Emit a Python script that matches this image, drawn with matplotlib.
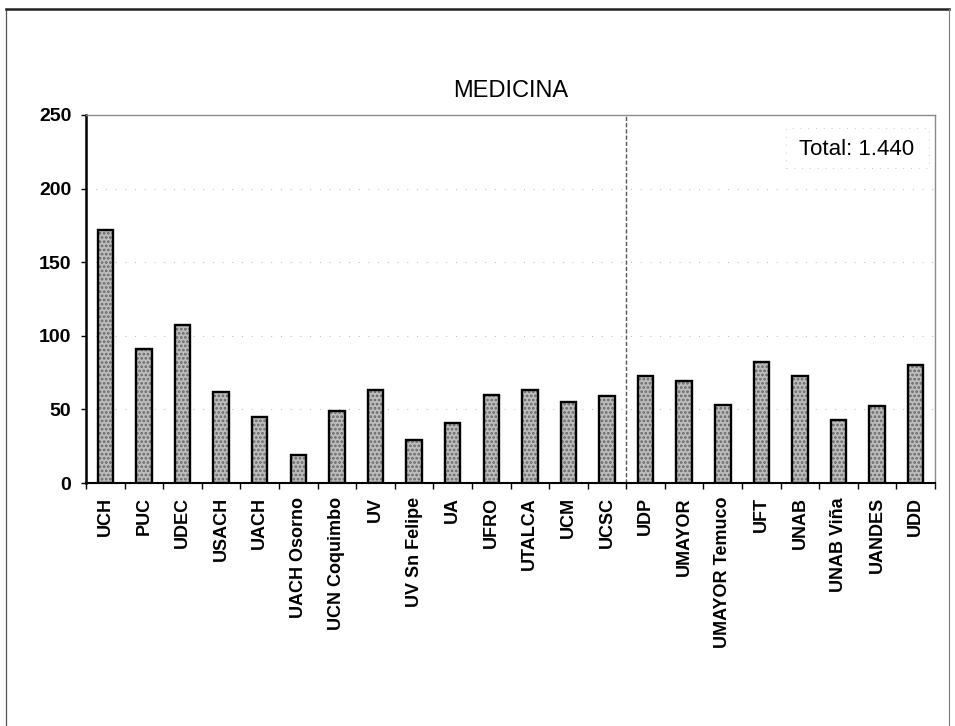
import matplotlib
matplotlib.use("Agg")
import matplotlib.pyplot as plt
from matplotlib.lines import Line2D
from matplotlib.patches import Rectangle

plt.rcParams['font.family'] = ['Liberation Sans', 'DejaVu Sans']
plt.rcParams['hatch.linewidth'] = 1.3

title = "MEDICINA"
total_label = "Total: 1.440"
categories = ["UCH", "PUC", "UDEC", "USACH", "UACH", "UACH Osorno", "UCN Coquimbo",
              "UV", "UV Sn Felipe", "UA", "UFRO", "UTALCA", "UCM", "UCSC",
              "UDP", "UMAYOR", "UMAYOR Temuco", "UFT", "UNAB", "UNAB Viña",
              "UANDES", "UDD"]
values = [172, 91, 107, 62, 45, 19, 49,
          63, 29, 41, 60, 63, 55, 59,
          73, 69, 53, 82, 73, 43,
          52, 80]
y_ticks = [0, 50, 100, 150, 200, 250]
split_after = "UCSC"

fig = plt.figure(figsize=(9.55, 7.26), dpi=100)
ax = fig.add_axes([0.0901, 0.3347, 0.889, 0.5069])

x = list(range(len(categories)))
# stippled fill
ax.bar(x, values, width=0.4, color='#bdbdbd', hatch='....', edgecolor='#666666',
       linewidth=0, zorder=2)
# outlines
ax.bar(x, values, width=0.4, fill=False, edgecolor='black', linewidth=1.7, zorder=3)

ax.set_xlim(-0.5, len(categories) - 0.5)
ax.set_ylim(0, 250)
ax.set_yticks(y_ticks)
ax.set_yticklabels([str(v) for v in y_ticks], fontsize=14, fontweight='bold')
ax.set_xticks(x)
ax.set_xticklabels(categories, rotation=90, fontsize=13, fontweight='bold')
ax.set_xticks([i - 0.5 for i in range(len(categories) + 1)], minor=True)
ax.tick_params(axis='x', which='major', length=0, pad=10)
ax.tick_params(axis='x', which='minor', length=4.5, width=1, direction='out')
ax.tick_params(axis='y', length=3.6, width=1, pad=7, direction='out')

# faint, sparse dotted gridlines (mostly lost in the scan)
for v in y_ticks[1:-1]:
    ax.axhline(v, color='#b5b5b5', linewidth=0.7, linestyle=(0, (1, 9)), zorder=1)

for side in ['top', 'right']:
    ax.spines[side].set_color('#8a8a8a')
    ax.spines[side].set_linewidth(1.0)
ax.spines['left'].set_linewidth(1.8)
ax.spines['bottom'].set_linewidth(1.5)

# separator line
sep = categories.index(split_after) + 0.5
ax.axvline(sep, color='#555555', linewidth=1.0, linestyle=(0, (3, 1.5)), zorder=1)

ax.set_title(title, fontsize=17, pad=13)

ax.text(0.975, 0.905, total_label, transform=ax.transAxes, fontsize=16,
        ha='right', va='center')
ax.add_patch(Rectangle((0.825, 0.855), 0.168, 0.11, transform=ax.transAxes,
                       fill=False, edgecolor='#c8c8c8', linewidth=0.7,
                       linestyle=(0, (1, 7)), zorder=1))

# page frame from the scan
W, H = 955, 726
fig.add_artist(Line2D([6 / W, 6 / W], [0, 1 - 9 / H], color='#555555', linewidth=0.9))
fig.add_artist(Line2D([6 / W, 949 / W], [1 - 9 / H, 1 - 9 / H], color='#222222', linewidth=1.8))
fig.add_artist(Line2D([949 / W, 949 / W], [0, 1 - 9 / H], color='#777777', linewidth=0.8))

fig.savefig("out.png", dpi=100, facecolor='white')
